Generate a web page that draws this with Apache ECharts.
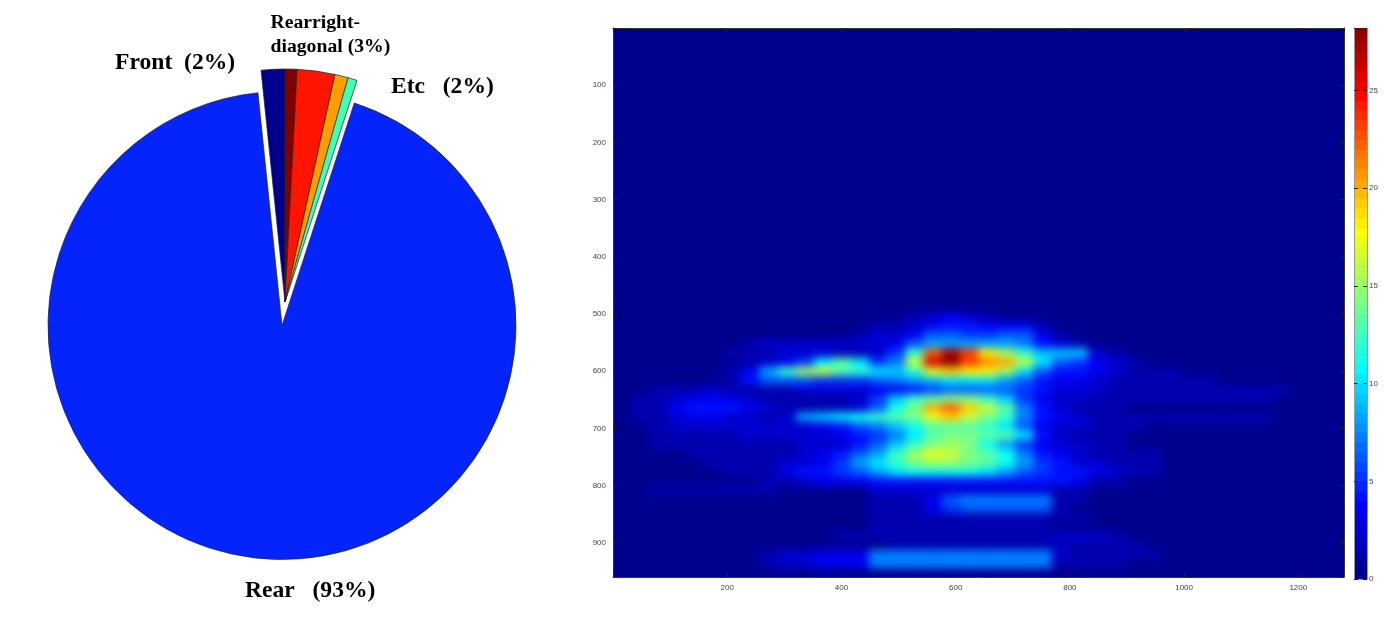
<!DOCTYPE html>
<html><head><meta charset="utf-8">
<style>html,body{margin:0;padding:0;background:#fff}#c{width:1392px;height:628px}</style>
<script src="https://cdn.jsdelivr.net/npm/echarts@6/dist/echarts.min.js"></script>
</head><body><div id="c"></div>
<script>
// Pie shares (percent of circle)
const sliceNames = ['Front','Rear-a','Rearright-diagonal','Rear-b','Etc','Rear'];
const sliceValues = [1.64,0.83,2.61,0.92,0.64,93.36];
const sliceColors = ['#00008f','#7f0000','#ff1400','#ff9c00','#40ffb0','#0524fb'];
const pieLabels = ['Front  (2%)','Rear   (93%)','Etc   (2%)','Rearright-','diagonal (3%)'];

// Heat map: cell size and rows
const cellW = 32, cellH = 16;
const rowStarts = [496,512,528,544,560,576,592,608,624,640,656,672,688,704,720,736,752,768,784,800,816,832,848,864,880,896,912,928,944];
const heatRows = [
[0,0,0,0,0,0,0,0,0,0,0,0,0,0,0,0,1,2,3,2,1,0,0,0,0,0,0,0,0,0,0,0,0,0,0,0,0,0,0,0],
[0,0,0,0,0,0,0,0,0,0,0,0,0,0,1,1,2,3,4,4,3,3,3,1,0,0,0,0,0,0,0,0,0,0,0,0,0,0,0,0],
[0,0,0,0,0,0,0,0,0,0,0,0,0,1,2,2,3,6,6,5,5,6,6,3,1,0,0,0,0,0,0,0,0,0,0,0,0,0,0,0],
[0,0,0,0,0,0,0,1,2,2,2,2,2,2,2,3,6,8,8,8,8,8,7,4,2,1,0,0,0,0,0,0,0,0,0,0,0,0,0,0],
[0,0,0,0,0,0,1,1,1,2,2,2,1,1,2,5,12,22,27,23,18,15,12,9,9,9,2,1,0,0,0,0,0,0,0,0,0,0,0,0],
[0,0,0,0,0,0,0,1,2,3,5,10,13,10,5,7,16,26,28,23,21,20,16,10,6,5,3,2,1,0,0,0,0,0,0,0,0,0,0,0],
[0,0,0,0,0,0,1,3,8,12,15,16,13,12,10,9,12,17,19,18,18,15,10,6,4,4,3,2,1,1,1,0,0,0,0,0,0,0,0,0],
[0,0,0,0,0,0,1,4,6,6,6,5,5,5,6,7,8,9,10,10,10,8,6,4,3,3,2,1,1,1,1,1,1,0,0,0,0,0,0,0],
[0,0,1,1,1,2,1,1,1,1,2,2,2,2,3,3,4,5,6,6,6,6,5,4,2,2,2,1,1,1,1,1,1,1,1,1,1,0,0,0],
[0,1,1,2,3,3,3,2,1,1,1,1,1,2,5,9,12,13,14,14,12,9,5,3,2,2,1,1,1,1,1,1,1,1,1,1,0,0,0,0],
[0,1,1,3,4,4,4,3,2,1,1,1,1,2,6,11,14,20,22,19,16,13,7,4,2,1,1,1,0,0,0,0,0,0,0,0,0,0,0,0],
[0,1,1,2,3,3,2,2,1,2,8,9,10,11,12,13,14,17,19,16,14,12,7,4,3,2,1,1,1,1,1,1,1,1,1,1,0,0,0,0],
[0,0,1,2,2,2,2,2,2,2,2,3,4,6,7,9,11,13,13,13,12,10,6,3,2,2,1,1,1,0,0,0,0,0,0,0,0,0,0,0],
[0,0,1,1,1,1,1,2,2,2,2,2,3,4,5,7,10,13,14,14,13,13,10,4,2,1,1,1,0,0,0,0,0,0,0,0,0,0,0,0],
[0,0,1,1,1,1,1,1,1,1,2,2,2,4,6,9,12,14,15,14,11,8,5,3,2,2,1,1,0,0,0,0,0,0,0,0,0,0,0,0],
[0,0,0,0,1,1,1,1,1,1,2,3,4,6,8,12,15,17,16,14,13,11,7,4,3,2,1,1,1,1,0,0,0,0,0,0,0,0,0,0],
[0,0,0,0,0,1,1,1,1,2,2,3,5,8,10,12,14,15,15,14,13,11,8,5,4,2,2,1,1,1,0,0,0,0,0,0,0,0,0,0],
[0,0,0,0,0,0,1,1,1,3,4,4,5,6,8,10,11,11,11,11,10,8,6,5,4,4,3,2,1,1,0,0,0,0,0,0,0,0,0,0],
[0,0,0,0,0,0,0,0,1,1,2,3,3,3,4,4,4,4,4,4,4,4,4,4,4,3,1,1,0,0,0,0,0,0,0,0,0,0,0,0],
[0,0,1,1,1,1,1,1,1,0,0,0,0,0,2,2,2,2,2,2,2,2,2,2,1,1,0,0,0,0,0,0,0,0,0,0,0,0,0,0],
[0,0,0,0,0,0,0,0,0,0,0,0,0,0,1,1,1,3,6,7,7,7,7,7,1,1,0,0,0,0,0,0,0,0,0,0,0,0,0,0],
[0,0,0,0,0,0,0,0,0,0,0,0,0,0,1,1,1,3,5,6,6,6,6,6,1,0,0,0,0,0,0,0,0,0,0,0,0,0,0,0],
[0,0,0,0,0,0,0,0,0,0,0,0,0,0,1,1,1,1,1,1,1,1,1,1,1,1,0,0,0,0,0,0,0,0,0,0,0,0,0,0],
[0,0,0,0,0,0,0,0,0,0,0,0,0,0,1,1,1,1,1,1,1,1,1,1,0,0,0,0,0,0,0,0,0,0,0,0,0,0,0,0],
[0,0,0,0,0,0,0,0,0,0,0,0,1,1,1,1,1,1,1,1,1,1,1,1,2,2,2,1,0,0,0,0,0,0,0,0,0,0,0,0],
[0,0,0,0,0,0,0,0,0,0,0,0,0,0,0,1,1,1,1,1,1,1,1,1,1,1,1,1,1,0,0,0,0,0,0,0,0,0,0,0],
[0,0,0,0,0,0,0,0,1,2,2,3,3,3,7,7,7,7,7,7,7,7,7,7,2,1,1,1,1,1,0,0,0,0,0,0,0,0,0,0],
[0,0,0,0,0,0,0,0,1,2,2,3,3,3,7,7,7,7,7,7,7,7,7,7,1,1,1,1,0,0,0,0,0,0,0,0,0,0,0,0],
[0,0,0,0,0,0,0,0,0,0,0,0,0,0,0,0,0,0,0,0,0,0,0,0,0,0,0,0,0,0,0,0,0,0,0,0,0,0,0,0]
];
const colorbarLevels = [0,0.5,1,1.5,2,2.5,3,3.5,4,4.5,5,5.5,6,6.5,7,7.5,8,8.5,9,9.5,10,10.5,11,11.5,12,12.5,13,13.5,14,14.5,15,15.5,16,16.5,17,17.5,18,18.5,19,19.5,20,20.5,21,21.5,22,22.5,23,23.5,24,24.5,25,25.5,26,26.5,27,27.5,28];
const colorMax = 28.2;
const jet = ['#00008f','#0000ff','#0080ff','#00ffff','#80ff80','#ffff00','#ff8000','#ff0000','#800000'];

const heatData = [];
heatRows.forEach((row, r) => row.forEach((v, c) => { if (v > 0) heatData.push([c * cellW, rowStarts[r], v]); }));
const barData = colorbarLevels.map(v => [0, v, v]);

const tickColor = '#222', labelColor = '#444';
const labelFont = {color: labelColor, fontSize: 8, fontFamily: 'Liberation Sans'};
const hideZero = v => v === 0 ? '' : String(v);
function valueAxis(extra) {
  return Object.assign({
    type: 'value', zlevel: 2, splitLine: {show: false},
    axisLine: {show: true, onZero: false, lineStyle: {color: '#333', width: 1}},
    axisTick: {show: true, inside: true, length: 4, lineStyle: {color: tickColor, width: 1}},
    axisLabel: {show: false}
  }, extra);
}
const boldText = (text, x, y, size) => ({type: 'text', left: x, top: y, style: {
  text, font: 'bold ' + size + 'px "Liberation Serif"', fill: '#000'}});

const chart = echarts.init(document.getElementById('c'), null, {renderer: 'canvas'});
chart.setOption({
  animation: false,
  backgroundColor: '#fff',
  grid: [
    {left: 613, top: 28, width: 731, height: 549, show: true, backgroundColor: '#00008f', borderWidth: 0},
    {left: 1354, top: 28, width: 13, height: 551, show: true, backgroundColor: '#00008f', borderWidth: 0}
  ],
  xAxis: [
    valueAxis({gridIndex: 0, position: 'bottom', min: 0, max: 1280, interval: 200,
      axisLabel: Object.assign({show: true, margin: 7, showMaxLabel: false, formatter: hideZero}, labelFont)}),
    valueAxis({gridIndex: 0, position: 'top', min: 0, max: 1280, interval: 200}),
    valueAxis({gridIndex: 1, position: 'bottom', min: 0, max: 1, axisTick: {show: false}, axisLine: {show: true, lineStyle: {color: '#999'}}})
  ],
  yAxis: [
    valueAxis({gridIndex: 0, position: 'left', inverse: true, min: 0, max: 960, interval: 100,
      axisLabel: Object.assign({show: true, margin: 7, showMaxLabel: false, formatter: hideZero}, labelFont)}),
    valueAxis({gridIndex: 0, position: 'right', inverse: true, min: 0, max: 960, interval: 100}),
    valueAxis({gridIndex: 1, position: 'right', min: 0, max: colorMax, interval: 5,
      axisLine: {show: true, onZero: false, lineStyle: {color: '#999'}},
      axisLabel: Object.assign({show: true, margin: 2, showMaxLabel: false}, labelFont)}),
    valueAxis({gridIndex: 1, position: 'left', min: 0, max: colorMax, interval: 5,
      axisLine: {show: true, onZero: false, lineStyle: {color: '#999'}}})
  ],
  visualMap: {show: false, min: 0, max: colorMax, dimension: 2, seriesIndex: [2, 3], inRange: {color: jet}},
  series: [
    {type: 'pie', center: [282, 325.5], radius: [0, 234], startAngle: 72, clockwise: true, silent: true,
      label: {show: false}, labelLine: {show: false},
      data: [5,0,1,2,3,4].map(i => ({
        name: sliceNames[i], value: sliceValues[i],
        itemStyle: i === 5 ? {color: sliceColors[i], borderColor: '#222', borderWidth: 0.7}
                           : {color: 'rgba(0,0,0,0)', borderWidth: 0}}))},
    {type: 'pie', center: [285, 302], radius: [0, 233], startAngle: 95.9, clockwise: true, silent: true,
      label: {show: false}, labelLine: {show: false},
      data: sliceNames.map((n, i) => ({
        name: n + ' ', value: sliceValues[i],
        itemStyle: i === 5 ? {color: 'rgba(0,0,0,0)', borderWidth: 0}
                           : {color: sliceColors[i], borderColor: '#222', borderWidth: 0.7}}))},
    {type: 'custom', xAxisIndex: 0, yAxisIndex: 0, zlevel: 1, silent: true, clip: true,
      data: heatData, encode: {x: 0, y: 1},
      renderItem(params, api) {
        const p0 = api.coord([api.value(0), api.value(1)]);
        const p1 = api.coord([api.value(0) + cellW, api.value(1) + cellH]);
        return {type: 'rect', shape: {x: p0[0], y: p0[1], width: p1[0] - p0[0] + 0.6, height: p1[1] - p0[1] + 0.6},
          style: {fill: api.visual('color')}};
      }},
    {type: 'custom', xAxisIndex: 2, yAxisIndex: 2, silent: true, clip: true,
      data: barData, encode: {y: 1},
      renderItem(params, api) {
        const p0 = api.coord([0, api.value(1) + 0.5]);
        const p1 = api.coord([1, api.value(1)]);
        return {type: 'rect', shape: {x: p0[0], y: p0[1], width: p1[0] - p0[0], height: p1[1] - p0[1] + 0.5},
          style: {fill: api.visual('color')}};
      }}
  ],
  graphic: [
    boldText(pieLabels[0], 115, 51, 23.6),
    boldText(pieLabels[1], 245, 579, 23.6),
    boldText(pieLabels[2], 391, 75, 23.6),
    boldText(pieLabels[3], 270.5, 13, 19.7),
    boldText(pieLabels[4], 270.5, 37, 19.7)
  ]
});
// soften the heat-map layer the way the photographed figure is smoothed
chart.getZr().painter.getLayer(1).dom.style.filter = 'blur(4px)';
</script></body></html>
